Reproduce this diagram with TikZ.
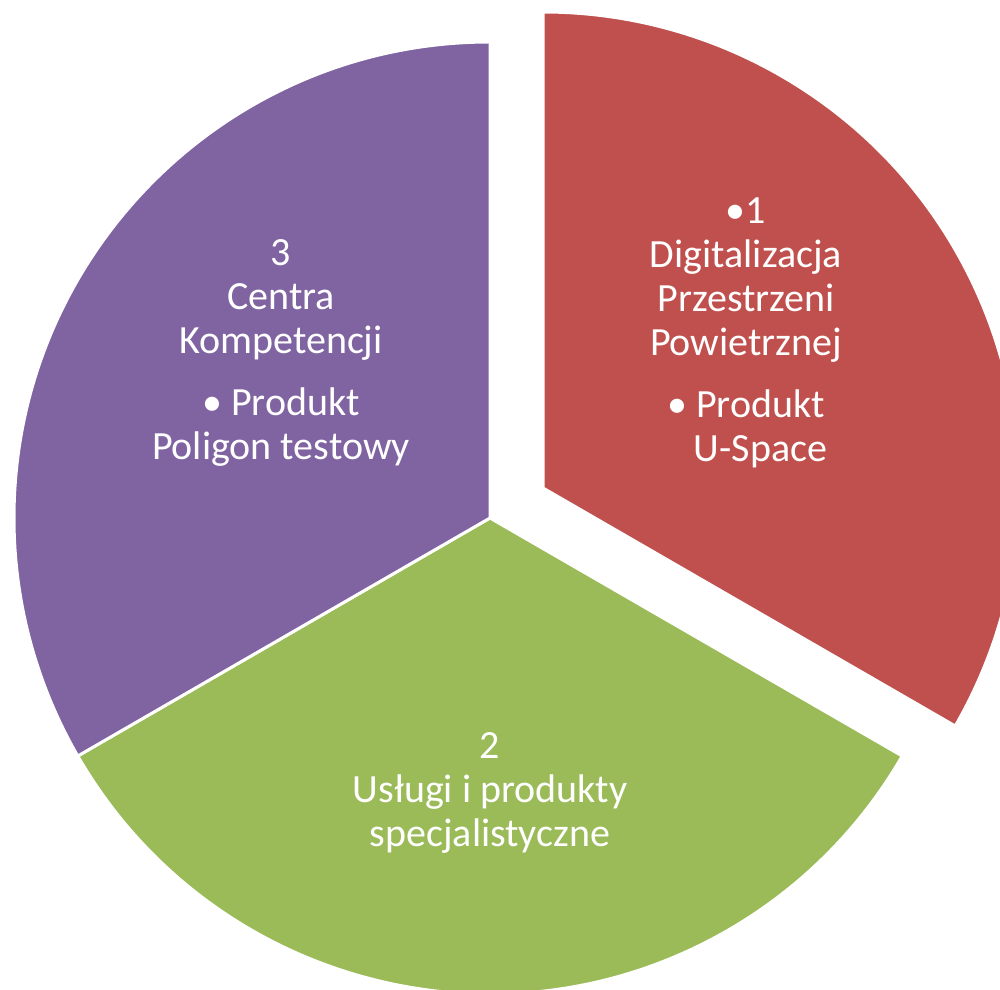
\documentclass[tikz,border=0pt]{standalone}
\usepackage{fontspec}
\setmainfont{Carlito}
\definecolor{sred}{HTML}{C0504D}
\definecolor{sgreen}{HTML}{9BBB59}
\definecolor{spurple}{HTML}{8064A2}
\begin{document}
\begin{tikzpicture}[x=1pt, y=1pt,
        sector/.style={draw=white, line width=3pt, line join=round},
        sectortext/.style={text=white, align=center, inner sep=0pt,
            font=\fontsize{40}{44}\selectfont}
    ]
        \useasboundingbox (0,0) rectangle (1000,989);
        \clip (0,0) rectangle (1000,989);
        \coordinate (c) at (490,471);
        \coordinate (cr) at (543,501);

        % Sector 1 (pulled out)
        \filldraw[sector, fill=sred] (cr) -- ++(-30:476pt)
            arc[start angle=-30, end angle=90, radius=476pt] -- cycle;
        % Sector 2
        \filldraw[sector, fill=sgreen] (c) -- ++(210:476pt)
            arc[start angle=210, end angle=330, radius=476pt] -- cycle;
        % Sector 3
        \filldraw[sector, fill=spurple] (c) -- ++(90:476pt)
            arc[start angle=90, end angle=210, radius=476pt] -- cycle;

        % Texts
        \node[sectortext] (t1) at (746,656) {•1\\Digitalizacja\\Przestrzeni\\Powietrznej\\[18pt]
            • Produkt\\\hphantom{• }U-Space};
        \node[sectortext] (t2) at (490,196) {2\\Usługi i produkty\\specjalistyczne};
        \node[sectortext] (t3) at (281,636) {3\\Centra\\Kompetencji\\[18pt]
            • Produkt\\Poligon testowy};
    \end{tikzpicture}
\end{document}
